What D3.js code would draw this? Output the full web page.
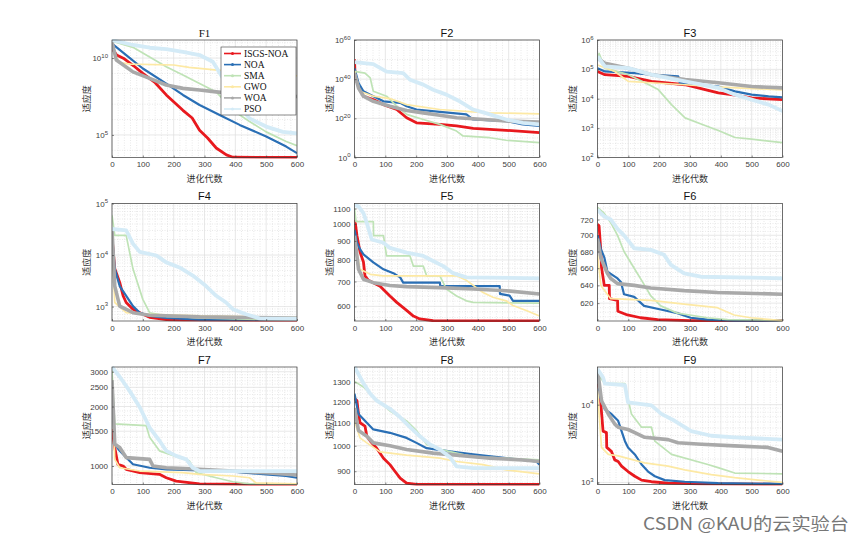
<!DOCTYPE html>
<html><head><meta charset="utf-8">
<script src="https://cdn.jsdelivr.net/npm/d3@7"></script>
<style>body{margin:0;background:#fff;}svg{display:block;}</style>
</head><body>
<svg id="chart" width="865" height="544"></svg>
<script>
// ---------- data ----------
const iterTicks = [0, 100, 200, 300, 400, 500, 600];
const seriesNames = ["ISGS-NOA", "NOA", "SMA", "GWO", "WOA", "PSO"];
const panelTitles = ["F1", "F2", "F3", "F4", "F5", "F6", "F7", "F8", "F9"];

// each panel: six series (ISGS-NOA, NOA, SMA, GWO, WOA, PSO), points [iteration, fitness]
const F1 = [
 [[0,8.9e10],[5,3.16e10],[15,1.58e10],[40,8.9e9],[70,3.16e9],[100,1e9],[140,2.5e8],[176,4.0e7],[230,4.0e6],[260,1.26e6],[284,2.0e5],[310,6.3e4],[338,1.41e4],[371,5.0e3],[392,3.55e3],[600,3.4e3]],
 [[0,8.9e10],[46,1.58e10],[100,2.1e9],[176,2.2e8],[230,4.0e7],[284,8.9e6],[349,2.0e6],[414,4.5e5],[500,7.9e4],[565,1.74e4],[600,6.5e3]],
 [[0,1.26e11],[68,5.0e10],[111,1.58e10],[176,2.75e9],[230,7.9e8],[284,2.2e8],[338,6.3e7],[392,4.0e6],[446,7.4e5],[500,1.58e5],[565,3.7e4],[600,2.0e4]],
 [[0,1.26e11],[10,1.58e10],[25,5.0e9],[60,4.0e9],[200,3.55e9],[250,2.5e9],[350,1.58e9],[400,1.12e9],[600,7.1e8]],
 [[0,1.12e11],[14,7.4e9],[68,1.26e9],[122,4.8e8],[176,1.78e8],[230,1.07e8],[284,8.3e7],[338,6.3e7],[392,5.0e7],[446,4.0e7],[600,3.16e7]],
 [[0,1.48e11],[68,7.1e10],[122,4.7e10],[176,3.8e10],[230,2.5e10],[284,1.58e10],[327,5.75e9],[360,4.8e8],[392,2.4e7],[446,1.2e6],[500,3.5e5],[554,1.58e5],[600,1.26e5]]
];
const F2 = [
 [[0,1.58e50],[2,2.5e41],[15,3.16e35],[29,2.0e31],[61,4.0e29],[94,1e27],[137,3.16e24],[169,2.0e20],[201,5.0e17],[277,7.9e16],[331,1.26e16],[385,7.9e14],[492,7.9e13],[600,5.0e12]],
 [[0,4.0e45],[13,1e38],[29,6.3e33],[51,1.26e32],[61,2.0e31],[94,5.0e28],[148,7.9e27],[169,1.58e26],[201,3.16e24],[277,2.0e23],[363,1e22],[385,2.5e19],[492,4.0e18],[546,7.9e16],[600,1.26e16]],
 [[0,1e44],[34,1.26e43],[51,4.0e40],[61,6.3e33],[104,2.0e31],[137,1.58e26],[169,1e22],[223,2.5e19],[277,7.9e16],[331,3.16e13],[352,1e11],[439,1.26e10],[492,6.3e8],[600,4.0e7]],
 [[0,1e44],[18,6.3e33],[61,2.0e31],[115,1.26e30],[169,1e27],[277,3.16e24],[385,2.0e23],[439,6.3e22],[600,2.0e22]],
 [[0,1.26e43],[13,3.16e35],[29,2.0e31],[61,5.0e28],[115,1.58e26],[169,1e24],[223,6.3e22],[277,4.0e21],[331,2.0e20],[385,6.3e19],[492,4.0e18],[600,1.26e18]],
 [[0,5.0e48],[61,5.0e47],[104,7.9e43],[158,1.26e43],[180,5.0e39],[223,1.58e37],[255,4.0e34],[298,1.26e32],[341,5.0e28],[385,3.16e24],[439,1e22],[492,2.5e19],[546,5.0e17],[600,7.9e16]]
];
const F3 = [
 [[0,8.5e4],[24,6.6e4],[100,5.75e4],[175,3.9e4],[284,3.0e4],[349,2.05e4],[392,1.58e4],[446,1.32e4],[500,1.07e4],[600,9.3e3]],
 [[0,1.1e5],[24,8.5e4],[121,7.4e4],[175,6.6e4],[262,5.75e4],[267,3.5e4],[392,2.6e4],[446,1.78e4],[500,1.38e4],[555,1.2e4],[600,1.12e4]],
 [[0,2.0e5],[5,3.5e5],[24,1.1e5],[100,6.6e4],[154,3.5e4],[197,2.05e4],[240,6.3e3],[284,2.24e3],[338,1.35e3],[392,8.3e2],[446,4.8e2],[500,4.2e2],[600,3.2e2]],
 [[0,1.41e5],[56,8.5e4],[100,3.9e4],[175,3.5e4],[284,3.0e4],[400,2.5e4],[600,2.0e4]],
 [[0,2.4e5],[24,1.62e5],[100,1.1e5],[175,6.6e4],[284,4.5e4],[392,3.5e4],[500,2.6e4],[600,2.34e4]],
 [[0,2.75e5],[24,1.26e5],[100,1.1e5],[175,6.6e4],[284,3.9e4],[392,2.34e4],[446,1.38e4],[500,9.3e3],[555,6.3e3],[600,3.8e3]]
];
const F4 = [
 [[0,2.24e4],[9,5.4e3],[25,2.95e3],[36,1.62e3],[46,1.2e3],[68,8.9e2],[100,7.1e2],[122,6.2e2],[176,5.6e2],[230,5.5e2],[600,5.45e2]],
 [[0,2.4e4],[9,5.4e3],[25,2.5e3],[46,1.62e3],[68,1.02e3],[90,7.6e2],[122,6.6e2],[176,6.0e2],[284,5.6e2],[600,5.55e2]],
 [[0,5.9e4],[9,2.4e4],[46,2.4e4],[68,5.4e3],[100,1.38e3],[122,7.6e2],[176,6.6e2],[284,6.0e2],[500,5.6e2],[600,5.6e2]],
 [[0,1.55e4],[9,1.2e3],[46,7.6e2],[122,7.1e2],[284,6.6e2],[500,6.3e2],[600,6.2e2]],
 [[0,3.2e4],[9,2.5e3],[25,1.02e3],[68,7.6e2],[122,6.8e2],[284,6.3e2],[600,6.0e2]],
 [[0,3.2e4],[46,3.0e4],[68,1.66e4],[90,1.15e4],[144,9.8e3],[176,7.2e3],[219,5.75e3],[262,4.0e3],[305,2.5e3],[338,1.62e3],[370,1.2e3],[392,8.9e2],[435,7.1e2],[478,5.9e2],[600,5.8e2]]
];
const F5 = [
 [[0,1025],[3,1000],[8,930],[18,840],[29,790],[34,725],[45,705],[83,680],[115,640],[137,615],[169,585],[191,565],[212,555],[255,549],[600,548]],
 [[0,965],[8,890],[18,855],[29,828],[61,788],[94,755],[126,737],[148,718],[158,695],[277,695],[278,680],[471,680],[472,648],[503,641],[514,621],[600,621]],
 [[0,1100],[5,1015],[61,1015],[62,930],[94,930],[104,820],[180,820],[191,770],[223,770],[234,725],[277,725],[298,668],[331,640],[363,621],[385,615],[600,612]],
 [[0,910],[18,755],[51,732],[94,725],[331,725],[363,705],[417,654],[449,635],[492,621],[514,603],[557,585],[600,565]],
 [[0,930],[13,755],[29,710],[61,695],[115,683],[169,678],[277,674],[385,668],[492,661],[600,648]],
 [[0,1125],[13,1115],[29,1070],[40,1005],[56,908],[94,890],[115,862],[169,837],[223,820],[255,795],[288,770],[320,737],[363,718],[600,714]]
];
const F6 = [
 [[0,714],[5,712],[11,680],[13,661],[22,640],[38,640],[39,625],[65,623],[66,611],[97,607],[140,604],[195,602],[300,601],[600,600.8]],
 [[0,700],[11,683],[22,673],[32,656],[65,648],[76,644],[86,630],[119,627],[151,617],[205,613],[259,609],[302,604],[356,602],[443,601],[600,601]],
 [[0,736],[22,728],[43,716],[65,700],[86,680],[119,660],[146,644],[173,628],[205,617],[259,609],[356,604],[421,602],[600,601]],
 [[0,676],[11,640],[43,625],[173,623],[281,619],[389,615],[443,607],[497,604],[562,602],[600,601]],
 [[0,696],[11,672],[32,654],[43,648],[65,642],[119,640],[173,637],[281,634],[389,632],[600,630]],
 [[0,733],[11,728],[22,724],[43,720],[65,708],[86,700],[119,684],[173,682],[216,676],[238,664],[281,654],[335,650],[497,649],[600,648]]
];
const F7 = [
 [[0,1540],[9,1240],[19,1020],[36,1000],[46,962],[90,925],[154,907],[176,872],[208,838],[284,812],[456,806],[600,806]],
 [[0,2700],[9,1290],[25,1193],[46,1103],[68,1020],[122,980],[176,962],[284,950],[392,936],[500,907],[564,890],[600,872]],
 [[0,3060],[9,1632],[111,1600],[122,1396],[154,1193],[219,1103],[251,1061],[273,925],[338,872],[392,832],[446,812],[600,806]],
 [[0,2614],[9,1080],[25,980],[90,943],[230,925],[284,907],[392,890],[446,872],[467,822],[600,812]],
 [[0,2720],[9,1290],[25,1240],[46,1103],[122,1080],[133,1000],[176,980],[284,962],[392,943],[500,925],[600,900]],
 [[0,3170],[25,2829],[57,2400],[90,1983],[122,1565],[154,1342],[176,1193],[208,1125],[241,1080],[262,980],[284,943],[600,943]]
];
const F8 = [
 [[0,1215],[8,1205],[13,1140],[18,1100],[34,1085],[40,1040],[51,1020],[72,990],[94,950],[115,925],[131,900],[148,875],[169,857],[201,852],[600,852]],
 [[0,1240],[13,1140],[40,1100],[61,1070],[115,1055],[169,1033],[201,1012],[234,990],[320,975],[385,965],[492,950],[590,937],[600,925]],
 [[0,1305],[29,1275],[61,1225],[115,1155],[169,1108],[201,1065],[234,1005],[277,985],[331,970],[385,955],[492,950],[600,943]],
 [[0,1108],[18,1033],[40,1012],[83,975],[169,962],[277,950],[331,937],[417,925],[492,905],[600,890]],
 [[0,1170],[13,1065],[40,1040],[61,1012],[115,1000],[169,985],[255,970],[331,962],[439,950],[546,943],[600,937]],
 [[0,1385],[29,1295],[51,1240],[72,1205],[115,1165],[148,1125],[180,1080],[212,1040],[245,1005],[277,985],[309,955],[331,918],[385,912],[600,912]]
];
const F9 = [
 [[0,18600],[8,15100],[11,10000],[18,4570],[29,4370],[30,2820],[45,2510],[56,1950],[67,1860],[78,1620],[99,1380],[121,1200],[143,1070],[175,1020],[229,977],[337,955],[600,944]],
 [[0,27500],[8,12600],[24,8700],[45,7600],[67,6200],[78,4570],[89,3390],[99,2820],[121,2290],[143,1700],[164,1380],[186,1200],[218,1070],[283,1020],[391,977],[600,955]],
 [[0,25100],[24,18600],[89,18600],[90,17000],[110,7600],[143,5130],[175,5130],[186,3390],[240,2290],[358,1700],[391,1550],[445,1320],[600,1290]],
 [[0,15100],[13,2820],[35,2290],[67,2190],[153,1780],[229,1620],[283,1450],[369,1260],[445,1150],[521,1070],[600,1000]],
 [[0,28800],[13,11200],[35,7600],[56,5620],[67,5130],[99,4790],[121,4370],[153,3800],[229,3550],[261,3240],[337,3090],[445,2950],[553,2820],[600,2510]],
 [[0,28800],[18,22400],[24,18600],[89,17800],[99,10700],[175,9800],[207,7600],[250,6200],[304,4570],[369,3980],[445,3800],[600,3550]]
];
const panelData = [F1, F2, F3, F4, F5, F6, F7, F8, F9];

// y-axis limits and tick labels
const yDomains = [[3.4e3,1.5e11],[1,1e60],[1e2,1e6],[525,1e5],[548,1135],[600.5,741],[806,3170],[852,1385],[940,30500]];
const yTicks = [
 [1e5,1e10],
 [1,1e20,1e40,1e60],
 [1e2,1e3,1e4,1e5,1e6],
 [1e3,1e4,1e5],
 [600,700,800,900,1000,1100],
 [620,640,660,680,700,720],
 [1000,1500,2000,2500,3000],
 [900,1000,1100,1200,1300],
 [1e3,1e4]
];
const powerLabels = [true,true,true,true,false,false,false,false,true];

// ---------- styles ----------
const colors = ["#e8191e","#2a6fb5","#bfe3b6","#fde9a4","#a9a9a9","#d4ebf7"];
const widths = [2.8,2.2,1.7,1.7,3.6,3.8];
const drawOrder = [0,1,2,3,4,5];

const svg = d3.select("#chart");
const W = 185, H = 117.5;
const colX = [112, 354.5, 597.5];
const rowY = [40, 203.5, 367];
const axisColor = "#3a3a3a";
const tickFont = "'Liberation Sans', Arial, sans-serif";
const cjkFont = "'Noto Sans CJK SC', sans-serif";

function minorValues(i, dom) {
  const out = [];
  const [lo, hi] = dom;
  if (i === 0) { for (let e = 4; e <= 11; e++) if (e !== 5 && e !== 10) out.push(Math.pow(10, e)); }
  else if (i === 1) { [10,30,50].forEach(e => out.push(Math.pow(10, e))); }
  else if (i === 2 || i === 3 || i === 8) {
    for (let e = 2; e <= 5; e++) for (let m = 2; m <= 9; m++) { const v = m * Math.pow(10, e); if (v > lo && v < hi) out.push(v); }
  } else {
    const step = [0,0,0,0,20,5,100,20][i], major = [0,0,0,0,100,20,500,100][i];
    for (let v = Math.ceil(lo/step)*step; v < hi; v += step) if (v % major !== 0) out.push(v);
  }
  return out;
}

panelData.forEach((data, i) => {
  const r = Math.floor(i / 3), c = i % 3;
  const x0 = colX[c], y0 = rowY[r];
  const g = svg.append("g").attr("transform", `translate(${x0},${y0})`);
  const x = d3.scaleLinear().domain([0, 600]).range([0, W]);
  const y = d3.scaleLog().domain(yDomains[i]).range([H, 0]);

  // minor grid
  const gm = g.append("g").attr("stroke", "#d2d2d2").attr("stroke-width", 0.5).attr("stroke-dasharray", "1,1.5");
  for (let v = 20; v < 600; v += 20) if (v % 100 !== 0)
    gm.append("line").attr("x1", x(v)).attr("x2", x(v)).attr("y1", 0).attr("y2", H);
  minorValues(i, yDomains[i]).forEach(v => {
    gm.append("line").attr("x1", 0).attr("x2", W).attr("y1", y(v)).attr("y2", y(v));
  });
  // major grid
  const gM = g.append("g").attr("stroke", "#dedede").attr("stroke-width", 0.7);
  iterTicks.forEach(v => gM.append("line").attr("x1", x(v)).attr("x2", x(v)).attr("y1", 0).attr("y2", H));
  yTicks[i].forEach(v => gM.append("line").attr("x1", 0).attr("x2", W).attr("y1", y(v)).attr("y2", y(v)));

  // clip
  const cid = "clip" + i;
  svg.append("defs").append("clipPath").attr("id", cid).append("rect").attr("x", 0).attr("y", -1).attr("width", W).attr("height", H + 2);
  const gl = g.append("g").attr("clip-path", `url(#${cid})`);
  const line = d3.line().x(d => x(d[0])).y(d => y(d[1]));
  drawOrder.forEach(s => {
    gl.append("path").datum(data[s]).attr("d", line).attr("fill", "none")
      .attr("stroke", colors[s]).attr("stroke-width", widths[s]).attr("stroke-linejoin", "round");
  });

  // axes
  const xa = g.append("g").attr("transform", `translate(0,${H})`)
    .call(d3.axisBottom(x).tickValues(iterTicks).tickSize(-2).tickPadding(4).tickFormat(d3.format("d")));
  const ya = g.append("g")
    .call(d3.axisLeft(y).tickValues(yTicks[i]).tickSize(-2).tickPadding(4).tickFormat(d => String(d)));
  [xa, ya].forEach(a => {
    a.select(".domain").remove();
    a.selectAll("line").attr("stroke", axisColor).attr("stroke-width", 0.6);
    a.selectAll("text").attr("fill", "#404040").style("font-family", tickFont).style("font-size", "8px");
  });
  if (powerLabels[i]) {
    ya.selectAll(".tick text").each(function(d) {
      const t = d3.select(this);
      const e = Math.round(Math.log10(d));
      t.text(null);
      t.append("tspan").text("10");
      t.append("tspan").attr("dy", "-0.55em").style("font-size", "6px").text(e);
    });
  }
  // box
  g.append("rect").attr("width", W).attr("height", H).attr("fill", "none").attr("stroke", axisColor).attr("stroke-width", 0.7);

  // title
  g.append("text").attr("x", W / 2).attr("y", -3.5).attr("text-anchor", "middle")
    .style("font-family", i === 0 ? "'Liberation Serif', serif" : tickFont)
    .style("font-size", "11px").attr("fill", "#111").text(panelTitles[i]);
  // labels
  g.append("text").attr("x", W / 2).attr("y", H + 24).attr("text-anchor", "middle")
    .style("font-family", cjkFont).style("font-size", "9px").attr("fill", "#333").text("进化代数");
  g.append("text").attr("transform", `translate(-22,${H / 2}) rotate(-90)`).attr("text-anchor", "middle")
    .style("font-family", cjkFont).style("font-size", "9px").attr("fill", "#333").text("适应度");

  // legend in first panel
  if (i === 0) {
    const lg = g.append("g").attr("transform", `translate(${221 - x0},${47 - y0})`);
    lg.append("rect").attr("width", 75).attr("height", 68).attr("fill", "#fff").attr("stroke", axisColor).attr("stroke-width", 0.6);
    seriesNames.forEach((n, k) => {
      const yy = 6.5 + k * 11.1;
      lg.append("line").attr("x1", 3).attr("x2", 20).attr("y1", yy).attr("y2", yy)
        .attr("stroke", colors[k]).attr("stroke-width", Math.min(widths[k], 1.6));
      lg.append("circle").attr("cx", 11.5).attr("cy", yy).attr("r", 1.5).attr("fill", colors[k]);
      lg.append("text").attr("x", 23).attr("y", yy + 3.3).style("font-family", "'Liberation Serif', serif")
        .style("font-size", "9.5px").attr("fill", "#111").text(n);
    });
  }
});

// watermark
svg.append("text").attr("x", 643).attr("y", 530).style("font-family", cjkFont).style("font-size", "17px")
  .attr("textLength", 206).attr("lengthAdjust", "spacingAndGlyphs")
  .attr("fill", "#777").text("CSDN @KAU的云实验台");
</script>
</body></html>
